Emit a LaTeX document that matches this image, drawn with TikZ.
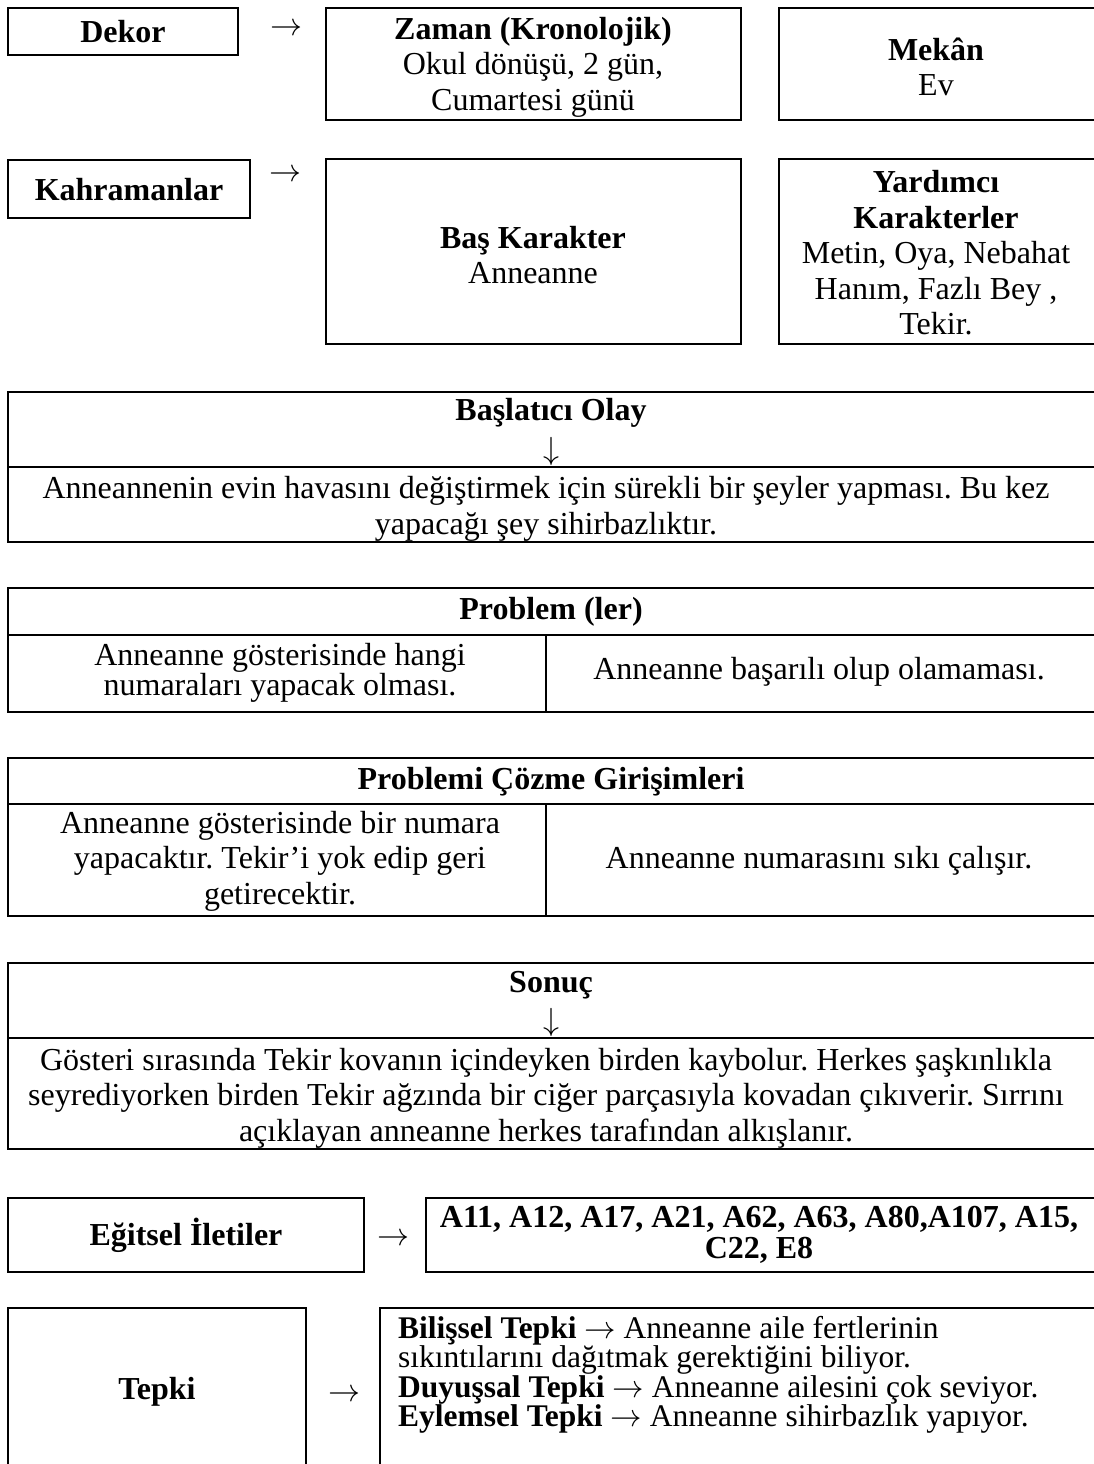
\RequirePackage{fix-cm}
\documentclass[tikz,border=0pt]{standalone}
\usepackage{fontspec}
\setmainfont{Liberation Serif}
\newcommand{\rar}{$\rightarrow$}
\newcommand{\dar}{$\downarrow$}
\begin{document}
\frenchspacing
\begin{tikzpicture}[x=1pt,y=-1pt,
  bx/.style={draw, line width=2.3pt},
  ln/.style={line width=2.3pt},
  thin/.style={line width=1.3pt},
  t/.style={font=\fontsize{32}{35.5}\selectfont, align=center, inner sep=0pt},
  tn/.style={font=\fontsize{32}{30.5}\selectfont, align=center, inner sep=0pt},
  tl/.style={font=\fontsize{31.5}{29.5}\selectfont, align=left, inner sep=0pt, anchor=west},
  ]
\useasboundingbox (0,0) rectangle (1094,1464);

% Row 1
\draw[bx] (8,8) rectangle (238,55);
\node[t] (dekor) at (123,32) {\textbf{Dekor}};
\node[t] (ar1) at (286,30) {\rar};
\draw[bx] (326,8) rectangle (741,120);
\node[t] (zaman) at (533,67) {\textbf{Zaman (Kronolojik)}\\Okul dönüşü, 2 gün,\\Cumartesi günü};
\draw[bx] (779,8) rectangle (1098,120);
\node[t] (mekan) at (936,67) {\textbf{Mekân}\\Ev};

% Row 2
\draw[bx] (8,160) rectangle (250,218);
\node[t] (kahr) at (129,190) {\textbf{Kahramanlar}};
\node[t] (ar2) at (285,176) {\rar};
\draw[bx] (326,159) rectangle (741,344);
\node[t] (bas) at (533,255) {\textbf{Baş Karakter}\\Anneanne};
\draw[bx] (779,159) rectangle (1098,344);
\node[t] (yard) at (936,253) {\textbf{Yardımcı}\\\textbf{Karakterler}\\Metin, Oya, Nebahat\\Hanım, Fazlı Bey ,\\Tekir.};

% Başlatıcı Olay
\draw[bx] (8,392) rectangle (1098,542);
\draw[ln] (8,467) -- (1098,467);
\node[t] (bo) at (551,413) {\textbf{Başlatıcı Olay}};
\node[t] (bodn) at (551,451) {\dar};
\node[t] (botx) at (546,509) {Anneannenin evin havasını değiştirmek için sürekli bir şeyler yapması. Bu kez\\yapacağı şey sihirbazlıktır.};

% Problem (ler)
\draw[bx] (8,588) rectangle (1098,712);
\draw[ln] (8,635) -- (1098,635);
\draw[thin] (546,635) -- (546,712);
\node[t] (pr) at (551,612) {\textbf{Problem (ler)}};
\node[tn] (pr1) at (280,673) {Anneanne gösterisinde hangi\\numaraları yapacak olması.};
\node[t] (pr2) at (819,672) {Anneanne başarılı olup olamaması.};

% Problemi Çözme Girişimleri
\draw[bx] (8,758) rectangle (1098,916);
\draw[ln] (8,804) -- (1098,804);
\draw[thin] (546,804) -- (546,916);
\node[t] (pc) at (551,782) {\textbf{Problemi Çözme Girişimleri}};
\node[t] (pc1) at (280,861) {Anneanne gösterisinde bir numara\\yapacaktır. Tekir’i yok edip geri\\getirecektir.};
\node[t] (pc2) at (819,861) {Anneanne numarasını sıkı çalışır.};

% Sonuç
\draw[bx] (8,963) rectangle (1098,1149);
\draw[ln] (8,1038) -- (1098,1038);
\node[t] (so) at (551,985) {\textbf{Sonuç}};
\node[t] (sodn) at (551,1022) {\dar};
\node[t] (sotx) at (546,1098) {Gösteri sırasında Tekir kovanın içindeyken birden kaybolur. Herkes şaşkınlıkla\\seyrediyorken birden Tekir ağzında bir ciğer parçasıyla kovadan çıkıverir. Sırrını\\açıklayan anneanne herkes tarafından alkışlanır.};

% Eğitsel İletiler
\draw[bx] (8,1198) rectangle (364,1272);
\node[t] (eg) at (186,1235) {\textbf{Eğitsel İletiler}};
\node[t] (ar3) at (393,1240) {\rar};
\draw[bx] (426,1198) rectangle (1098,1272);
\node[tn] (egtx) at (759,1235) {\textbf{A11, A12, A17, A21, A62, A63, A80,A107, A15,}\\\textbf{C22, E8}};

% Tepki
\draw[bx] (8,1308) rectangle (306,1480);
\node[t] (tp) at (157,1392) {\textbf{Tepki}};
\node[t] (ar4) at (344,1396) {\rar};
\draw[bx] (380,1308) rectangle (1098,1480);
\node[tl] (tptx) at (398,1375) {\textbf{Bilişsel Tepki} \rar{} Anneanne aile fertlerinin\\sıkıntılarını dağıtmak gerektiğini biliyor.\\\textbf{Duyuşsal Tepki} \rar{} Anneanne ailesini çok seviyor.\\\textbf{Eylemsel Tepki} \rar{} Anneanne sihirbazlık yapıyor.};
\end{tikzpicture}
\end{document}
